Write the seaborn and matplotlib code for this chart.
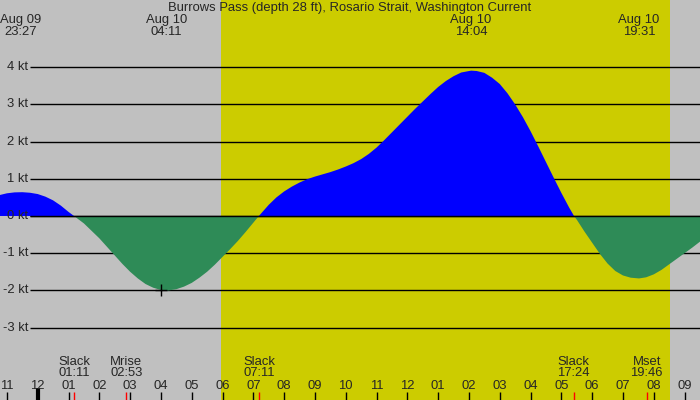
import numpy as np
import pandas as pd
import matplotlib
matplotlib.use("Agg")
import matplotlib.pyplot as plt
import matplotlib.transforms as mtransforms
import seaborn as sns

# hours since Aug 10 00:00, current speed in knots
hours = [-1.25, -1.0, -0.75, -0.5, -0.25, 0.0, 0.25, 0.5, 0.75, 1.0, 1.18,
         1.5, 1.75, 2.0, 2.25, 2.5, 2.75, 3.0, 3.25, 3.5, 3.75, 4.0, 4.18,
         4.5, 4.75, 5.0, 5.25, 5.5, 5.75, 6.0, 6.25, 6.5, 6.75, 7.0, 7.18,
         7.5, 7.75, 8.0, 8.25, 8.5, 8.75, 9.0, 9.25, 9.5, 9.75, 10.0, 10.25,
         10.5, 10.75, 11.0, 11.25, 11.5, 11.75, 12.0, 12.25, 12.5, 12.75,
         13.0, 13.25, 13.5, 13.75, 14.07, 14.25, 14.5, 14.75, 15.0, 15.25,
         15.5, 15.75, 16.0, 16.25, 16.5, 16.75, 17.0, 17.25, 17.41,
         17.5, 17.75, 18.0, 18.25, 18.5, 18.75, 19.0, 19.25, 19.52, 19.75,
         20.0, 20.25, 20.5, 20.75, 21.0, 21.25, 21.5]
speed = [0.56, 0.61, 0.635, 0.64, 0.625, 0.59, 0.52, 0.42, 0.28, 0.11, 0.0,
         -0.20, -0.40, -0.60, -0.83, -1.06, -1.29, -1.50, -1.68, -1.83, -1.93, -1.99, -2.01,
         -1.97, -1.90, -1.80, -1.66, -1.50, -1.31, -1.10, -0.89, -0.67, -0.43, -0.18, 0.0,
         0.30, 0.50, 0.66, 0.79, 0.90, 0.99, 1.06, 1.12, 1.18, 1.25, 1.33, 1.42,
         1.53, 1.67, 1.84, 2.04, 2.25, 2.46, 2.67, 2.88, 3.08, 3.28,
         3.47, 3.63, 3.76, 3.86, 3.91, 3.90, 3.85, 3.72, 3.55, 3.30,
         3.00, 2.66, 2.28, 1.87, 1.45, 1.03, 0.62, 0.23, 0.0,
         -0.10, -0.42, -0.72, -1.02, -1.28, -1.48, -1.60, -1.66, -1.68, -1.65,
         -1.57, -1.45, -1.30, -1.15, -1.00, -0.85, -0.69]

sunrise = 5.96
sunset = 20.51

kt_levels = [-3, -2, -1, 0, 1, 2, 3, 4]

# extremes shown along the top
top_times = [-0.55, 4.18, 14.07, 19.52]
top_dates = ["Aug 09", "Aug 10", "Aug 10", "Aug 10"]
top_clock = ["23:27", "04:11", "14:04", "19:31"]

# slack / moon events along the bottom
ev_times = [1.18, 2.88, 7.18, 17.40, 19.77]
ev_names = ["Slack", "Mrise", "Slack", "Slack", "Mset"]
ev_clock = ["01:11", "02:53", "07:11", "17:24", "19:46"]

hour_ticks = list(range(-1, 22))

title = "Burrows Pass (depth 28 ft), Rosario Strait, Washington Current"

sns.set_theme(style="white")
plt.rcParams["font.family"] = ["Liberation Sans", "DejaVu Sans"]
fs = 9.4

df = pd.DataFrame({"hour": hours, "speed": speed})

fig = plt.figure(figsize=(7, 4), dpi=100)
ax = fig.add_axes([0, 0, 1, 1])
ax.set_xlim(-1.224, 21.5)
ax.set_ylim(-4.95, 5.81)
ax.set_facecolor("#C0C0C0")
ax.axvspan(sunrise, sunset, color="#CCCC00", lw=0, zorder=0)

# horizontal knot lines + labels
x_line0 = -0.25
for k in kt_levels:
    ax.hlines(k, x_line0, 21.5, color="black", lw=1.0, zorder=1)
    ax.text(-0.315, k, f"{k} kt", ha="right", va="center", fontsize=fs, zorder=5)

ax.fill_between(df["hour"], df["speed"], 0, where=df["speed"] >= 0,
                interpolate=True, color="#0000FF", lw=0, zorder=2)
ax.fill_between(df["hour"], df["speed"], 0, where=df["speed"] <= 0,
                interpolate=True, color="#2E8B57", lw=0, zorder=2)
ax.hlines(0, x_line0, 21.5, color="black", lw=1.0, zorder=3)

ax.plot([4.0], [-2.0], marker="+", color="black", ms=9, mew=1, zorder=4)

trans = mtransforms.blended_transform_factory(ax.transData, ax.transAxes)

# hour ticks and labels
for h in hour_ticks:
    lab = f"{(h - 1) % 12 + 1:02d}"
    ax.text(h, 0.036, lab, transform=trans, ha="center", va="center", fontsize=fs)
    if h == 0:
        ax.plot([h, h], [0, 0.03], transform=trans, color="black", lw=3, solid_capstyle="butt")
    else:
        ax.plot([h, h], [0, 0.02], transform=trans, color="black", lw=1, solid_capstyle="butt")

for t, n, c in zip(ev_times, ev_names, ev_clock):
    ax.plot([t, t], [0, 0.02], transform=trans, color="red", lw=1, solid_capstyle="butt")
    ax.text(t, 0.096, n, transform=trans, ha="center", va="center", fontsize=fs)
    ax.text(t, 0.067, c, transform=trans, ha="center", va="center", fontsize=fs)

for t, d, c in zip(top_times, top_dates, top_clock):
    ax.text(t, 0.95, d, transform=trans, ha="center", va="center", fontsize=fs)
    ax.text(t, 0.92, c, transform=trans, ha="center", va="center", fontsize=fs)

ax.text(0.5, 0.981, title, transform=ax.transAxes, ha="center", va="center", fontsize=fs)

ax.set_xticks([])
ax.set_yticks([])
for s in ax.spines.values():
    s.set_visible(False)

fig.savefig("out.png", dpi=100)
